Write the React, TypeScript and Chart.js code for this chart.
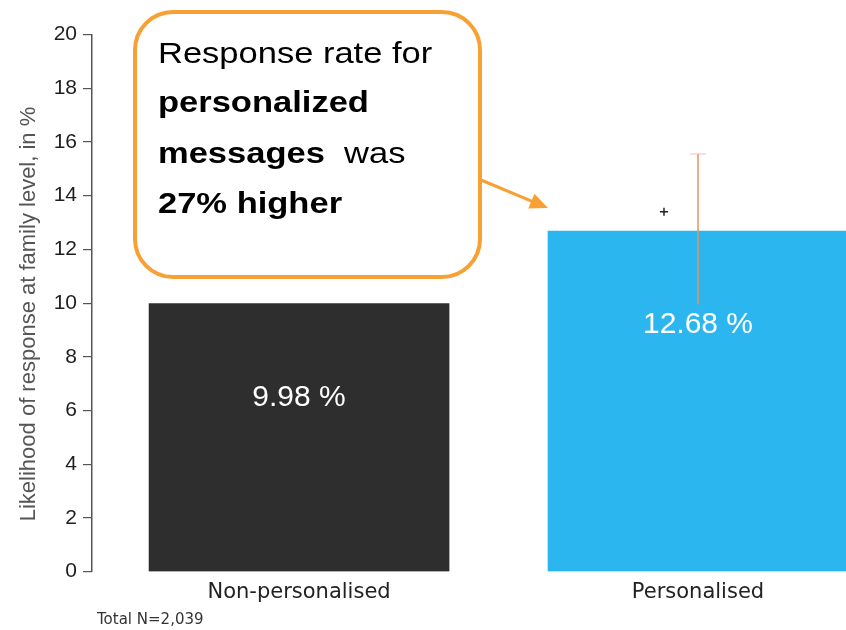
import React, { useEffect, useRef } from "react";
import { Chart, registerables } from "chart.js";

Chart.register(...registerables);

const categories = ["Non-personalised", "Personalised"];
const values = [9.98, 12.68];
const valueLabels = ["9.98 %", "12.68 %"];
const barColors = ["#2e2e2e", "#2cb6ef"];
const errorLow = [null, 9.95];
const errorHigh = [null, 15.55];
const plusMarker = [null, 13.4];
const yTicks = [0, 2, 4, 6, 8, 10, 12, 14, 16, 18, 20];
const yTitle = "Likelihood of response at family level, in %";
const footnote = "Total N=2,039";
const calloutLines: Array<Array<[string, boolean]>> = [
  [["Response rate for", false]],
  [["personalized", true]],
  [["messages", true], ["  was", false]],
  [["27% higher", true]],
];

const W = 846;
const H = 630;

export default function App() {
  const ref = useRef<HTMLCanvasElement | null>(null);
  useEffect(() => {
    const canvas = ref.current!;
    const extras = {
      id: "extras",
      afterDatasetsDraw(chart: any) {
        const ctx = chart.ctx;
        const meta = chart.getDatasetMeta(0);
        const ys = chart.scales.y;
        ctx.save();
        meta.data.forEach((bar: any, i: number) => {
          ctx.fillStyle = "#ffffff";
          ctx.font = "30px 'Liberation Sans'";
          ctx.textAlign = "center";
          ctx.textBaseline = "middle";
          ctx.fillText(valueLabels[i], bar.x, bar.y + 94);
          if (errorLow[i] != null && errorHigh[i] != null) {
            const y1 = ys.getPixelForValue(errorLow[i] as number);
            const y2 = ys.getPixelForValue(errorHigh[i] as number);
            ctx.strokeStyle = "#e6945e";
            ctx.lineWidth = 1.5;
            ctx.beginPath();
            ctx.moveTo(bar.x, y1);
            ctx.lineTo(bar.x, y2);
            ctx.stroke();
            ctx.strokeStyle = "rgba(235,160,160,0.45)";
            ctx.beginPath();
            ctx.moveTo(bar.x - 8, y2);
            ctx.lineTo(bar.x + 8, y2);
            ctx.stroke();
          }
          if (plusMarker[i] != null) {
            const py = ys.getPixelForValue(plusMarker[i] as number);
            const px = bar.x - 34;
            ctx.strokeStyle = "#222";
            ctx.lineWidth = 1.5;
            ctx.beginPath();
            ctx.moveTo(px - 4, py);
            ctx.lineTo(px + 4, py);
            ctx.moveTo(px, py - 4);
            ctx.lineTo(px, py + 4);
            ctx.stroke();
          }
        });
        ctx.restore();
      },
      afterDraw(chart: any) {
        const ctx = chart.ctx;
        ctx.save();
        // y-axis title
        ctx.save();
        ctx.translate(29, 314);
        ctx.rotate(-Math.PI / 2);
        ctx.fillStyle = "#555";
        ctx.font = "22px 'Liberation Sans'";
        ctx.textAlign = "center";
        ctx.textBaseline = "middle";
        ctx.fillText(yTitle, 0, 0);
        ctx.restore();
        ctx.fillStyle = "#333";
        ctx.font = "15px 'DejaVu Sans'";
        ctx.textAlign = "left";
        ctx.textBaseline = "middle";
        ctx.fillText(footnote, 97, 620);
        const x0 = 135, y0 = 12, x1 = 480, y1 = 277, r = 38;
        ctx.strokeStyle = "#f7a033";
        ctx.lineWidth = 4;
        ctx.fillStyle = "#ffffff";
        ctx.beginPath();
        ctx.moveTo(x0 + r, y0);
        ctx.arcTo(x1, y0, x1, y1, r);
        ctx.arcTo(x1, y1, x0, y1, r);
        ctx.arcTo(x0, y1, x0, y0, r);
        ctx.arcTo(x0, y0, x1, y0, r);
        ctx.closePath();
        ctx.fill();
        ctx.stroke();
        const ax0 = 481, ay0 = 180, ax1 = 548, ay1 = 208;
        const ang = Math.atan2(ay1 - ay0, ax1 - ax0);
        ctx.lineWidth = 3;
        ctx.beginPath();
        ctx.moveTo(ax0, ay0);
        ctx.lineTo(ax1 - 12 * Math.cos(ang), ay1 - 12 * Math.sin(ang));
        ctx.stroke();
        ctx.fillStyle = "#f7a033";
        ctx.beginPath();
        ctx.moveTo(ax1, ay1);
        ctx.lineTo(ax1 - 18 * Math.cos(ang) + 8 * Math.sin(ang), ay1 - 18 * Math.sin(ang) - 8 * Math.cos(ang));
        ctx.lineTo(ax1 - 18 * Math.cos(ang) - 8 * Math.sin(ang), ay1 - 18 * Math.sin(ang) + 8 * Math.cos(ang));
        ctx.closePath();
        ctx.fill();
        const baselines = [63, 112, 163, 213];
        ctx.fillStyle = "#000";
        ctx.textBaseline = "alphabetic";
        ctx.textAlign = "left";
        calloutLines.forEach((segs, li) => {
          ctx.save();
          ctx.translate(158, baselines[li]);
          ctx.scale(1.15, 1);
          let x = 0;
          segs.forEach(([t, b]) => {
            ctx.font = (b ? "bold " : "") + "30px 'Liberation Sans'";
            ctx.fillText(t, x, 0);
            x += ctx.measureText(t).width;
          });
          ctx.restore();
        });
        ctx.restore();
      },
    };
    const chart = new Chart(canvas, {
      type: "bar",
      data: {
        datasets: [
          {
            data: values.map((v, i) => ({ x: i, y: v })),
            backgroundColor: barColors,
            borderWidth: 0,
            barThickness: 300,
          },
        ],
      },
      options: {
        responsive: false,
        animation: false,
        layout: { padding: { top: 34.5, bottom: 0, left: 0, right: 0 } },
        plugins: { legend: { display: false }, tooltip: { enabled: false } },
        scales: {
          x: {
            type: "linear",
            min: -0.519,
            max: 1.371,
            offset: false,
            afterBuildTicks: (s: any) => {
              s.ticks = categories.map((_, i) => ({ value: i }));
            },
            grid: { display: false },
            border: { display: false },
            ticks: {
              color: "#222",
              font: { family: "DejaVu Sans", size: 21 },
              padding: 0,
              maxRotation: 0,
              autoSkip: false,
              callback: (v: any) => categories[v as number] ?? "",
            },
            afterFit: (s: any) => {
              s.height = 58.3;
            },
          },
          y: {
            min: 0,
            max: 20,
            afterBuildTicks: (s: any) => {
              s.ticks = yTicks.map((v) => ({ value: v }));
            },
            grid: { drawOnChartArea: false, drawTicks: true, tickLength: 9, color: "#555", lineWidth: 1.2 },
            border: { display: true, color: "#555", width: 1.5 },
            ticks: { color: "#1e1e1e", font: { family: "Liberation Sans", size: 21 }, padding: 6 },
            title: { display: false },
            afterFit: (s: any) => {
              s.width = 92;
            },
          },
        },
      },
      plugins: [extras],
    } as any);
    return () => chart.destroy();
  }, []);
  return (
    <div style={{ position: "fixed", left: 0, top: 0, width: W, height: H, overflow: "hidden", background: "#fff" }}>
      <canvas ref={ref} width={W} height={H} style={{ width: W, height: H, display: "block" }} />
    </div>
  );
}
